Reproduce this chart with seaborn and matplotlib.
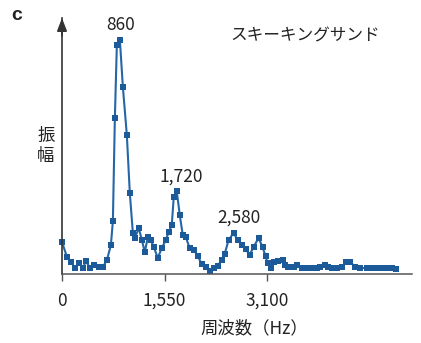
import matplotlib
matplotlib.use("Agg")
import matplotlib.pyplot as plt
import seaborn as sns
import pandas as pd

# Frequency (Hz) and amplitude (arbitrary units)
freq_hz = [0, 75, 136, 196, 256, 317, 362, 422, 483, 558,
           618, 679, 739, 769, 799, 829, 875, 920, 980, 1025,
           1071, 1101, 1161, 1206, 1252, 1297, 1342, 1387, 1448, 1508,
           1568, 1614, 1659, 1689, 1734, 1780, 1825, 1870, 1930, 1991,
           2051, 2111, 2172, 2232, 2292, 2352, 2413, 2458, 2518, 2594,
           2654, 2714, 2775, 2835, 2895, 2971, 3031, 3076, 3106, 3152,
           3197, 3272, 3333, 3378, 3423, 3499, 3559, 3634, 3710, 3785,
           3860, 3906, 3981, 4026, 4087, 4162, 4237, 4298, 4358, 4433,
           4509, 4614, 4690, 4765, 4841, 4916, 4991, 5052]
amplitude = [32, 17, 12, 6, 11, 6, 13, 6, 9, 7,
             7, 14, 29, 53, 156, 229, 234, 187, 139, 81,
             41, 36, 46, 34, 22, 37, 34, 27, 16, 26,
             34, 42, 49, 77, 83, 59, 39, 37, 26, 24,
             18, 10, 7, 3, 6, 8, 14, 20, 34, 41,
             34, 29, 25, 19, 27, 36, 27, 18, 11, 6,
             12, 13, 14, 9, 7, 7, 9, 6, 6, 6,
             6, 7, 9, 7, 6, 6, 7, 12, 12, 7,
             6, 6, 6, 6, 6, 6, 6, 5]

peak_labels = ["860", "1,720", "2,580"]
peak_text_x = [890, 1795, 2669]
peak_text_y = [249, 97, 56]

tick_values = [0, 1550, 3100]
tick_labels = ["0", "1,550", "3,100"]

title_text = "スキーキングサンド"
x_label = "周波数（Hz）"
y_label = "振\n幅"
panel_label = "c"

sns.set_theme(style="white")
plt.rcParams["font.family"] = ["Noto Sans CJK JP", "DejaVu Sans"]

W, H = 421, 343
fig = plt.figure(figsize=(W / 100, H / 100), dpi=100)
ax = fig.add_axes([62 / W, (H - 274) / H, (412 - 62) / W, 256 / H])

df = pd.DataFrame({"freq": freq_hz, "amp": amplitude})
line_color = "#2466a8"
sns.lineplot(data=df, x="freq", y="amp", ax=ax, color=line_color, lw=1.5,
             marker="s", markersize=4.5, markeredgewidth=0,
             markerfacecolor="#1d5a9a", clip_on=False)

ax.set_xlim(0, 5290)
ax.set_ylim(0, 256)

for s in ["top", "right"]:
    ax.spines[s].set_visible(False)
ax.spines["left"].set_color("#333333")
ax.spines["left"].set_linewidth(1.2)
ax.spines["bottom"].set_color("#555555")
ax.spines["bottom"].set_linewidth(1.1)

ax.annotate("", xy=(0, 1.0), xycoords="axes fraction", xytext=(0, 0.93),
            arrowprops=dict(arrowstyle="-|>,head_width=0.25,head_length=0.65",
                            color="#333333", lw=1.2, shrinkA=0, shrinkB=0))

ax.set_yticks([])
ax.set_xticks(tick_values)
ax.set_xticklabels(tick_labels, fontsize=12.5, color="#222222")
ax.tick_params(axis="x", direction="out", length=5, width=1,
               color="#555555", pad=8, bottom=True)
ax.set_xlabel("")
ax.set_ylabel("")

for lbl, tx, ty in zip(peak_labels, peak_text_x, peak_text_y):
    ax.text(tx, ty, lbl, ha="center", va="center", fontsize=12.5,
            color="#222222", clip_on=False)

fig.text(305 / W, 1 - 36 / H, title_text, ha="center", va="center",
         fontsize=12, color="#222222")
fig.text(254 / W, 1 - 328 / H, x_label, ha="center", va="center",
         fontsize=12.5, color="#222222")
fig.text(46 / W, 1 - 146 / H, y_label, ha="center", va="center",
         fontsize=12.5, color="#222222", linespacing=1.15)
fig.text(17 / W, 1 - 15 / H, panel_label, ha="center", va="center",
         fontsize=14, fontweight="bold", family=["Liberation Sans", "DejaVu Sans"],
         color="#222222")

fig.savefig("out.png", dpi=100)
